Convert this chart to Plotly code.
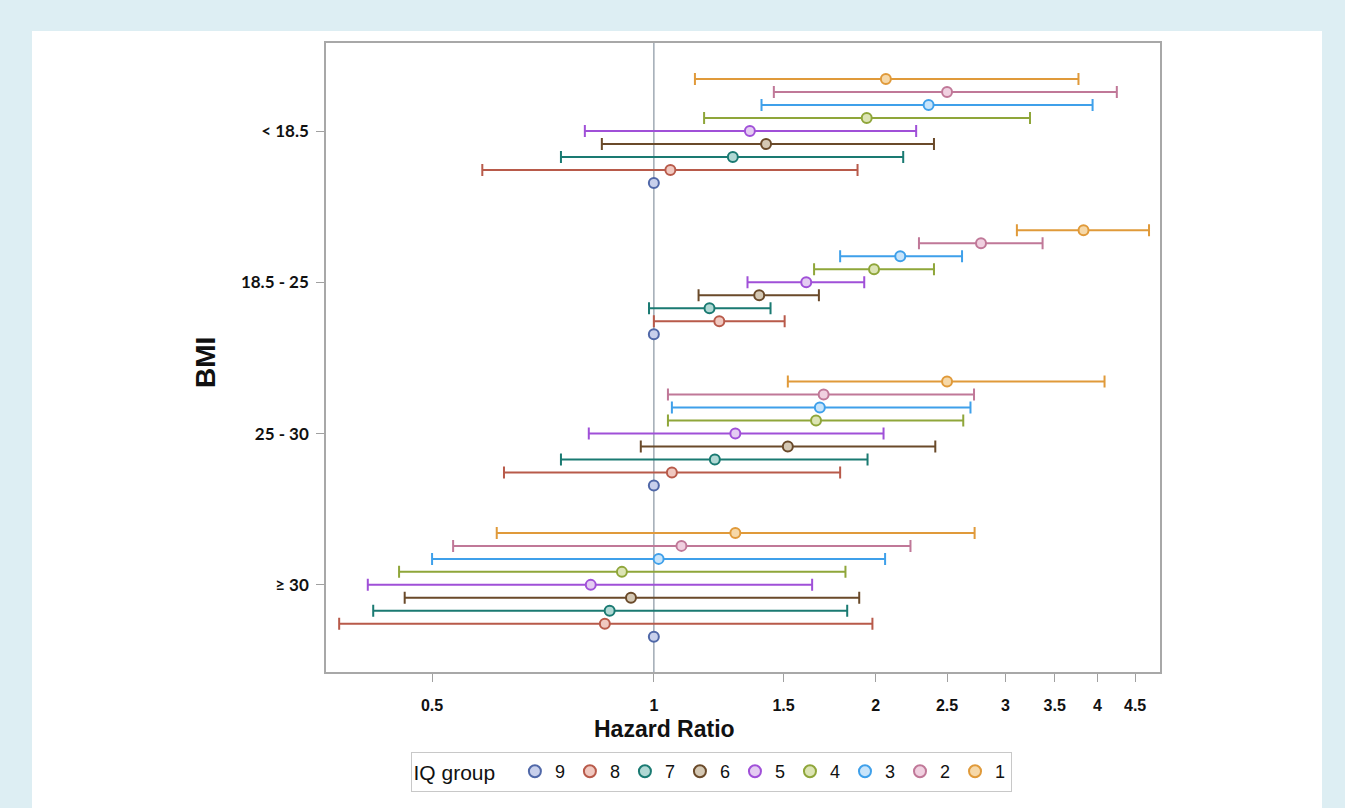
import plotly.graph_objects as go

# ---- data ----
bmi_categories = ["< 18.5", "18.5 - 25", "25 - 30", "\u2265 30"]
iq_groups = ["1", "2", "3", "4", "5", "6", "7", "8", "9"]

# hazard ratio point estimates per IQ group, ordered by bmi_categories
hr_point = {
    "1": [2.065, 3.83, 2.50, 1.29],
    "2": [2.50, 2.78, 1.70, 1.09],
    "3": [2.36, 2.16, 1.68, 1.015],
    "4": [1.945, 1.99, 1.66, 0.905],
    "5": [1.35, 1.61, 1.29, 0.821],
    "6": [1.42, 1.39, 1.52, 0.931],
    "7": [1.28, 1.19, 1.21, 0.871],
    "8": [1.053, 1.227, 1.058, 0.858],
    "9": [1.0, 1.0, 1.0, 1.0],
}
hr_lower = {
    "1": [1.137, 3.11, 1.52, 0.612],
    "2": [1.455, 2.29, 1.045, 0.534],
    "3": [1.40, 1.79, 1.058, 0.50],
    "4": [1.17, 1.65, 1.045, 0.451],
    "5": [0.806, 1.34, 0.816, 0.409],
    "6": [0.85, 1.15, 0.96, 0.459],
    "7": [0.748, 0.985, 0.748, 0.416],
    "8": [0.585, 1.0, 0.626, 0.374],
    "9": [1.0, 1.0, 1.0, 1.0],
}
hr_upper = {
    "1": [3.77, 4.70, 4.09, 2.725],
    "2": [4.25, 3.37, 2.72, 2.23],
    "3": [3.94, 2.62, 2.69, 2.06],
    "4": [3.24, 2.40, 2.63, 1.82],
    "5": [2.27, 1.93, 2.05, 1.64],
    "6": [2.40, 1.675, 2.41, 1.90],
    "7": [2.18, 1.44, 1.95, 1.83],
    "8": [1.89, 1.505, 1.79, 1.98],
    "9": [1.0, 1.0, 1.0, 1.0],
}
x_tick_values = [0.5, 1, 1.5, 2, 2.5, 3, 3.5, 4, 4.5]
x_tick_labels = ["0.5", "1", "1.5", "2", "2.5", "3", "3.5", "4", "4.5"]

# ---- styles ----
line_colors = {
    "9": "#5068A8", "8": "#B85A4A", "7": "#1A7A72", "6": "#6A4A2A",
    "5": "#A050D8", "4": "#8FA63A", "3": "#3FA0EA", "2": "#C07898", "1": "#E09A3A",
}
fill_colors = {
    "9": "#C8D0EC", "8": "#F0C8C0", "7": "#B0D8D4", "6": "#D4C8B4",
    "5": "#E4CCF2", "4": "#DCE4B4", "3": "#C8E4FA", "2": "#F0D0E0", "1": "#F6D8A8",
}
# dodge offset between IQ groups within a BMI category (category units)
dodge = 0.0859

fig = go.Figure()

for g in reversed(iq_groups):  # legend order 9 ... 1
    k = int(g)
    ypos = [ci + (k - 5) * dodge for ci in range(len(bmi_categories))]
    pts = hr_point[g]
    plus = [u - p for u, p in zip(hr_upper[g], pts)]
    minus = [p - l for p, l in zip(pts, hr_lower[g])]
    has_err = g != "9"
    fig.add_trace(go.Scatter(
        x=pts, y=ypos, mode="markers", name=g,
        marker=dict(symbol="circle", size=10, color=fill_colors[g],
                    line=dict(color=line_colors[g], width=2)),
        error_x=dict(type="data", symmetric=False, array=plus, arrayminus=minus,
                     color=line_colors[g], thickness=2, width=6, visible=has_err),
    ))

plot_left, plot_right, plot_top, plot_bottom = 326, 1160, 43, 672
W, H = 1345, 808
pw = plot_right - plot_left
ph = plot_bottom - plot_top

def px_x(p):
    return (p - plot_left) / pw

def px_y(p):
    return (plot_bottom - p) / ph

narrow = "Liberation Sans Narrow, Arial Narrow, Liberation Sans, Arial"

fig.update_layout(
    width=W, height=H,
    margin=dict(l=plot_left, r=W - plot_right, t=plot_top, b=H - plot_bottom),
    paper_bgcolor="#DDEEF3",
    plot_bgcolor="white",
    showlegend=True,
    legend=dict(
        orientation="h", x=px_x(711), xanchor="center", y=px_y(752), yanchor="top",
        bordercolor="#C8C8C8", borderwidth=1, bgcolor="white",
        title=dict(text="IQ group  ", font=dict(family=narrow, size=21, color="#111")),
        font=dict(family=narrow, size=18, color="#111"),
        itemsizing="constant", itemwidth=30, traceorder="normal",
    ),
    xaxis=dict(
        type="log", range=[-0.445, 0.687],
        tickvals=x_tick_values, ticktext=x_tick_labels,
        tickfont=dict(family=narrow, size=16, color="#111", weight="bold"),
        ticks="outside", ticklen=8, tickcolor="#A0A0A0", ticklabelstandoff=10,
        showgrid=False, zeroline=False,
        showline=True, linecolor="#A8A8A8", linewidth=1.5, mirror=True,
    ),
    yaxis=dict(
        range=[3.576, -0.582],
        tickvals=list(range(len(bmi_categories))), ticktext=bmi_categories,
        tickfont=dict(family="Lato, Open Sans, Arial", size=17, color="#111", weight="bold"),
        ticks="outside", ticklen=8, tickcolor="#A0A0A0", ticklabelstandoff=4,
        showgrid=False, zeroline=False,
        showline=True, linecolor="#A8A8A8", linewidth=1.5, mirror=True,
    ),
    shapes=[
        dict(type="rect", xref="paper", yref="paper",
             x0=px_x(32), x1=px_x(1322), y0=px_y(830), y1=px_y(31),
             fillcolor="white", line=dict(width=0), layer="below"),
        dict(type="line", xref="x", yref="paper", x0=1, x1=1, y0=0, y1=1,
             line=dict(color="#A0AAB4", width=1.5), layer="below"),
    ],
    annotations=[
        dict(text="<b>Hazard Ratio</b>", xref="paper", yref="paper",
             x=px_x(664), y=px_y(729), xanchor="center", yanchor="middle",
             showarrow=False,
             font=dict(family=narrow, size=23, color="#111")),
        dict(text="<b>BMI</b>", xref="paper", yref="paper",
             x=px_x(205), y=px_y(363), xanchor="center", yanchor="middle",
             showarrow=False, textangle=-90,
             font=dict(family="Liberation Sans, Arial", size=28, color="#111")),
    ],
)

fig.write_html("out.html", config={"displayModeBar": False},
               post_script="document.body.style.margin='0px';document.body.style.overflow='hidden';")
